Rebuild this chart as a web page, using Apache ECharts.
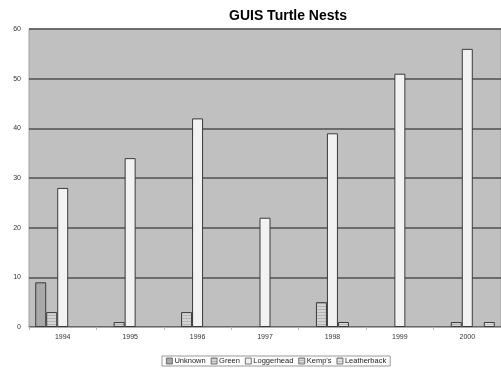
<!DOCTYPE html>
<html>
<head>
<meta charset="utf-8">
<script src="https://cdn.jsdelivr.net/npm/echarts@6/dist/echarts.min.js"></script>
<style>
  html, body { margin: 0; padding: 0; background: #fff; }
  #main { width: 501px; height: 369px; }
</style>
</head>
<body>
<div id="main"></div>
<script>
// data
var years = ['1994', '1995', '1996', '1997', '1998', '1999', '2000'];
var unknown = [9, 0, 0, 0, 0, 0, 0];
var green = [3, 1, 3, 0, 5, 0, 1];
var loggerhead = [28, 34, 42, 22, 39, 51, 56];
var kemps = [0, 0, 0, 0, 1, 0, 0];
var leatherback = [0, 0, 0, 0, 0, 0, 1];
var seriesNames = ['Unknown', 'Green', 'Loggerhead', "Kemp's", 'Leatherback'];

// small striped fill like the old excel patterns
function stripes(bg, line, gap) {
    var c = document.createElement('canvas');
    c.width = 4; c.height = gap;
    var ctx = c.getContext('2d');
    ctx.fillStyle = bg;
    ctx.fillRect(0, 0, 4, gap);
    ctx.fillStyle = line;
    ctx.fillRect(0, 0, 4, 1);
    return { image: c, repeat: 'repeat' };
}

var fills = [
    '#a9a9a9',
    stripes('#d4d4d4', '#b4b4b4', 3),
    '#f2f2f2',
    stripes('#dcdcdc', '#bcbcbc', 2),
    stripes('#e4e4e4', '#c4c4c4', 3)
];
var allData = [unknown, green, loggerhead, kemps, leatherback];

var myChart = echarts.init(document.getElementById('main'));
var option = {
    animation: false,
    title: {
        text: 'GUIS Turtle Nests',
        left: 283,
        textAlign: 'center',
        top: 4,
        textStyle: { fontFamily: 'Liberation Sans', fontSize: 14, fontWeight: 'bold', color: '#000' }
    },
    legend: {
        data: seriesNames,
        bottom: 3,
        left: 162,
        itemWidth: 6,
        itemHeight: 6,
        itemGap: 5,
        padding: [1, 4],
        borderColor: '#999',
        borderWidth: 1,
        icon: 'rect',
        itemStyle: { borderColor: '#555', borderWidth: 0.8 },
        textStyle: { fontFamily: 'Liberation Sans', fontSize: 7.5, color: '#222', padding: [0, 0, 0, -3] }
    },
    grid: {
        left: 29,
        right: -6,
        top: 29,
        bottom: 42,
        show: true,
        backgroundColor: '#c0c0c0',
        borderColor: '#a0a0a0',
        borderWidth: 1
    },
    xAxis: {
        type: 'category',
        data: years,
        axisLine: { lineStyle: { color: '#aaa' } },
        axisTick: { show: true, length: 3, lineStyle: { color: '#bbb' } },
        axisLabel: { fontFamily: 'Liberation Sans', fontSize: 7, color: '#333', margin: 7 }
    },
    yAxis: {
        type: 'value',
        min: 0,
        max: 60,
        interval: 10,
        axisLine: { show: false },
        axisTick: { show: false },
        axisLabel: { fontFamily: 'Liberation Sans', fontSize: 7, color: '#333', margin: 8 },
        splitLine: { lineStyle: { color: '#505050', width: 1.5 } }
    },
    series: []
};
for (let i = 0; i < seriesNames.length; i++) {
    option.series.push({
        name: seriesNames[i],
        type: 'bar',
        barWidth: 11,
        barGap: '0%',
        data: allData[i].map(function (v) { return v === 0 ? '-' : v; }),
        itemStyle: { color: fills[i], borderColor: '#3a3a3a', borderWidth: 1 }
    });
}
myChart.setOption(option);
</script>
</body>
</html>
